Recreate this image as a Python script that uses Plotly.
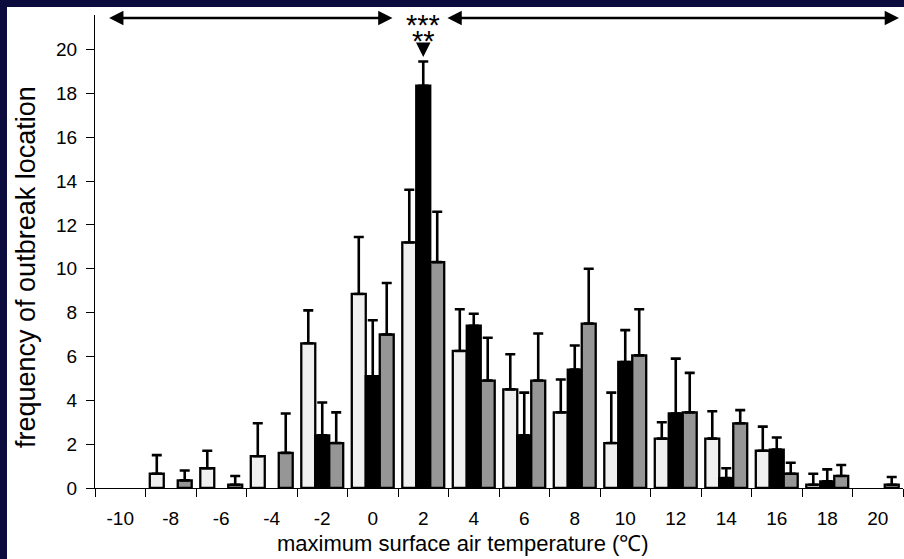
import plotly.graph_objects as go

categories = ["-10", "-8", "-6", "-4", "-2", "0", "2", "4", "6", "8", "10", "12", "14", "16", "18", "20"]
y_ticks = [0, 2, 4, 6, 8, 10, 12, 14, 16, 18, 20]

white_vals = [None, 0.65, 0.9, 1.45, 6.6, 8.85, 11.2, 6.25, 4.5, 3.45, 2.05, 2.25, 2.25, 1.7, 0.15, None]
white_sd = [None, 0.85, 0.8, 1.5, 1.5, 2.6, 2.4, 1.9, 1.6, 1.5, 2.3, 0.75, 1.25, 1.1, 0.5, None]

black_vals = [None, None, None, None, 2.4, 5.1, 18.35, 7.4, 2.4, 5.4, 5.75, 3.4, 0.45, 1.75, 0.3, None]
black_sd = [None, None, None, None, 1.5, 2.55, 1.1, 0.55, 1.95, 1.1, 1.45, 2.5, 0.45, 0.55, 0.55, None]

gray_vals = [None, 0.35, 0.15, 1.6, 2.05, 7.0, 10.3, 4.9, 4.9, 7.5, 6.05, 3.45, 2.95, 0.65, 0.55, 0.15]
gray_sd = [None, 0.45, 0.4, 1.8, 1.4, 2.35, 2.3, 1.95, 2.15, 2.5, 2.1, 1.8, 0.6, 0.5, 0.5, 0.35]

series = [
    ("group 1", white_vals, white_sd, "#f0f0f0"),
    ("group 2", black_vals, black_sd, "#000000"),
    ("group 3", gray_vals, gray_sd, "#969696"),
]

FONT = "Liberation Sans, Arial, sans-serif"
NAVY = "#0b0b3e"

fig = go.Figure()
for name, vals, sd, color in series:
    fig.add_trace(go.Bar(
        name=name, x=categories, y=vals,
        marker=dict(color=color, line=dict(color="black", width=2.3)),
        error_y=dict(type="data", symmetric=False, array=sd,
                     arrayminus=[0 if v is not None else None for v in sd],
                     color="black", thickness=2.6, width=5),
        showlegend=False,
    ))

W, H = 904, 559
ml, mr, mt, mb = 95, 1, 15, 71
pw, ph = W - ml - mr, H - mt - mb
PX_PER_UNIT = 21.925

def px_x(p):
    return (p - ml) / pw

def px_y(p):
    return (H - mb - p) / ph

def data_y(p):
    return (H - mb - p) / PX_PER_UNIT

shapes = [
    dict(type="rect", xref="paper", yref="paper", x0=px_x(0), x1=px_x(W), y0=px_y(7), y1=px_y(0),
         fillcolor=NAVY, line=dict(width=0), layer="above"),
    dict(type="rect", xref="paper", yref="paper", x0=px_x(0), x1=px_x(7), y0=px_y(H), y1=px_y(0),
         fillcolor=NAVY, line=dict(width=0), layer="above"),
]

arrow_y = data_y(18)
ann = []
ann.append(dict(xref="x", yref="y", axref="x", ayref="y", x=-0.22, y=arrow_y, ax=5.42, ay=arrow_y,
                text="", showarrow=True, arrowhead=2, startarrowhead=2, arrowside="end+start",
                arrowsize=1.1, startarrowsize=1.1, arrowwidth=2.6, arrowcolor="black"))
ann.append(dict(xref="x", yref="y", axref="x", ayref="y", x=15.42, y=arrow_y, ax=6.45, ay=arrow_y,
                text="", showarrow=True, arrowhead=2, startarrowhead=2, arrowside="end+start",
                arrowsize=1.1, startarrowsize=1.1, arrowwidth=2.6, arrowcolor="black"))
ann.append(dict(xref="x", yref="y", x=6, y=data_y(18), yanchor="top", yshift=11, text="***", showarrow=False,
                font=dict(family=FONT, size=29, color="black")))
ann.append(dict(xref="x", yref="y", x=6, y=data_y(34), yanchor="top", yshift=11, text="**", showarrow=False,
                font=dict(family=FONT, size=29, color="black")))
# downward pointer above the tallest bar
ann.append(dict(xref="x", yref="y", x=6, y=data_y(57), ax=0, ay=-13, text="", showarrow=True,
                arrowhead=2, arrowsize=1.45, arrowwidth=2, arrowcolor="black"))
# axis titles
ann.append(dict(xref="paper", yref="paper", x=px_x(463), y=px_y(558), text="maximum surface air temperature (℃)",
                showarrow=False, xanchor="center", yanchor="bottom",
                font=dict(family=FONT, size=22, color="black")))
ann.append(dict(xref="paper", yref="paper", x=px_x(26), y=px_y(267), text="frequency of outbreak location",
                showarrow=False, textangle=-90, xanchor="center", yanchor="middle",
                font=dict(family=FONT, size=27, color="black")))

fig.update_layout(
    width=W, height=H,
    margin=dict(l=ml, r=mr, t=mt, b=mb),
    paper_bgcolor="white", plot_bgcolor="white",
    barmode="group", bargap=0.17, bargroupgap=0,
    font=dict(family=FONT, color="black"),
    shapes=shapes, annotations=ann,
    xaxis=dict(
        type="category", range=[-0.5, 15.5], tickson="boundaries", automargin=False,
        showline=True, linecolor="black", linewidth=1.3,
        ticks="outside", ticklen=8, tickcolor="black", tickwidth=1.3,
        showgrid=False, zeroline=False, ticklabelstandoff=13,
        tickfont=dict(family=FONT, size=19, color="black"),
    ),
    yaxis=dict(
        range=[0, ph / PX_PER_UNIT], tickvals=y_ticks, automargin=False,
        showline=True, linecolor="black", linewidth=1.3,
        ticks="outside", ticklen=8, tickcolor="black", tickwidth=1.3,
        showgrid=False, zeroline=False, ticklabelstandoff=5,
        tickfont=dict(family=FONT, size=19, color="black"),
    ),
)

fig.write_html("out.html", config={"displayModeBar": False},
               post_script="document.body.style.margin='0px';document.body.style.overflow='hidden';")
